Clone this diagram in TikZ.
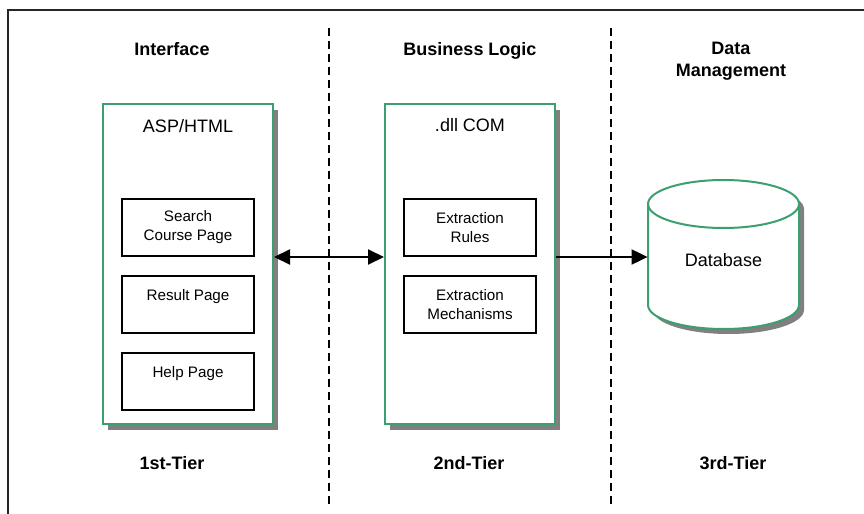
\documentclass[tikz,border=0pt]{standalone}
\usepackage{fontspec}
\setmainfont{Liberation Sans}
\usepackage{tikz}
\usetikzlibrary{
  arrows.meta,
  positioning,
  calc,
  shadows
}
\definecolor{tiergreen}{RGB}{60,160,110}
\definecolor{shadowgray}{RGB}{128,128,128}

\begin{document}
\begin{tikzpicture}[
  x=0.5pt, y=-0.5pt,
  every node/.style={font=\fontsize{9}{11}\selectfont, inner sep=0pt},
  head/.style={font=\fontsize{9}{11}\selectfont\bfseries, align=center},
  tier/.style={draw=tiergreen, line width=1pt, fill=white, minimum width=85pt, minimum height=160pt,
    drop shadow={shadow xshift=2.5pt, shadow yshift=-3pt, fill=shadowgray, opacity=1}},
  page/.style={draw, line width=1pt, fill=white, align=center, minimum width=66pt, minimum height=28.5pt,
    font=\fontsize{7.6}{9.5}\selectfont},
  sep/.style={dashed, line width=0.75pt, dash pattern=on 4pt off 2.5pt},
  ar/.style={-{Triangle[length=8pt, width=7.5pt]}, line width=1pt},
  biar/.style={{Triangle[length=8pt, width=7.5pt]}-{Triangle[length=8pt, width=7.5pt]}, line width=1pt}
]
  \useasboundingbox (0,0) rectangle (864,514);
  % frame
  \draw[black!85, line width=1pt] (870,10) -- (8,10) -- (8,520);

  % column borders
  \draw[sep] (329,28) -- (329,508);
  \draw[sep] (611,28) -- (611,508);

  % headers
  \node[head, anchor=north] (hif) at (172,42) {Interface};
  \node[head, anchor=north] (hbl) at (470,42) {Business Logic};
  \node[head, anchor=north] (hdm) at (731,42) {Data\\Management};

  % 1st tier
  \node[tier] (t1) at (188,264) {};
  \node (asp) at (188,126) {ASP/HTML};
  \node[page] (srch) at (188,227.5) {Search\\Course Page};
  \node[page, below=9pt of srch] (res) {Result Page\\\mbox{}};
  \node[page, below=9pt of res] (help) {Help Page\\\mbox{}};

  % 2nd tier
  \node[tier] (t2) at (470,264) {};
  \node (dll) at (470,125) {.dll COM};
  \node[page] (rules) at (470,227.5) {Extraction\\Rules};
  \node[page, below=9pt of rules] (mech) {Extraction\\Mechanisms};

  % 3rd tier (cylinder)
  \fill[shadowgray] (653,209) -- (653,310) arc[start angle=180, end angle=360, x radius=37.75pt, y radius=12pt]
    -- (804,209) arc[start angle=0, end angle=180, x radius=37.75pt, y radius=12pt] -- cycle;
  \draw[tiergreen, line width=1pt, fill=white] (648,204) -- (648,305) arc[start angle=180, end angle=360, x radius=37.75pt, y radius=12pt]
    -- (799,204) arc[start angle=0, end angle=180, x radius=37.75pt, y radius=12pt] -- cycle;
  \draw[tiergreen, line width=1pt] (648,204) arc[start angle=180, end angle=360, x radius=37.75pt, y radius=12pt];
  \node[minimum width=75.5pt] (db) at (723.5,260) {Database};

  \draw[biar] (t1.east |- srch.south) -- (t2.west |- srch.south);
  \draw[ar] (t2.east |- rules.south) -- (db.west |- rules.south);

  % tier labels
  \node[head] (l1) at (172,463) {1st-Tier};
  \node[head] (l2) at (469,463) {2nd-Tier};
  \node[head] (l3) at (733,463) {3rd-Tier};

\end{tikzpicture}
\end{document}
